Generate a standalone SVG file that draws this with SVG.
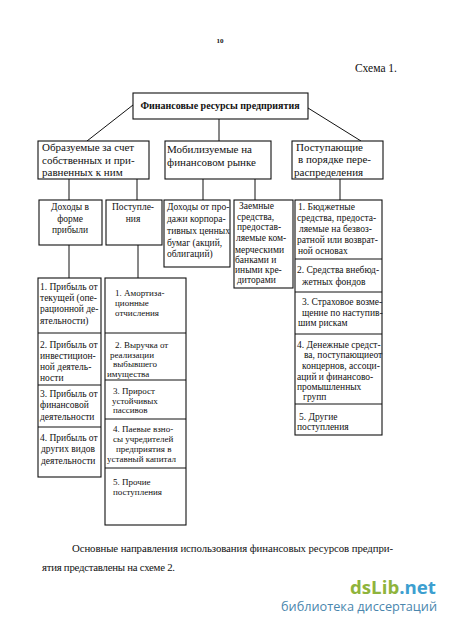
<svg xmlns="http://www.w3.org/2000/svg" width="450" height="626" viewBox="0 0 450 626">
<style>
.bx{fill:#fff;stroke:#111;stroke-width:1.1}
.ln{stroke:#111;stroke-width:1;fill:none}
text{font-family:"Liberation Serif","Times New Roman",serif;fill:#111}
.t{font-size:9.5px}
.s{font-size:9px}
.h{font-size:11px}
.c{text-anchor:middle}
</style>
<rect width="450" height="626" fill="#fff"/>
<text x="220" y="43" class="c" style="font-size:7px;font-weight:bold">10</text>
<text x="397" y="72" text-anchor="end" style="font-size:11.5px">Схема 1.</text>

<g id="connectors" class="ln">
<line x1="133" y1="105" x2="87" y2="141"/>
<line x1="219" y1="119" x2="219" y2="141"/>
<line x1="308" y1="108" x2="361" y2="141"/>
<line x1="69" y1="179" x2="69" y2="200"/>
<line x1="137" y1="179" x2="137" y2="200"/>
<line x1="203" y1="179" x2="203" y2="200"/>
<line x1="255" y1="179" x2="255" y2="200"/>
<line x1="340" y1="179" x2="340" y2="200"/>
<line x1="69" y1="245" x2="69" y2="278"/>
<line x1="138" y1="245" x2="138" y2="278"/>
</g>

<g id="root">
<rect class="bx" x="133" y="93" width="175" height="26"/>
<text x="220" y="109" class="c" style="font-size:10px;font-weight:bold">Финансовые ресурсы предприятия</text>
</g>

<g id="own">
<rect class="bx" x="38" y="141" width="111" height="38"/>
<text class="h" x="42" y="151">Образуемые за счет</text>
<text class="h" x="42" y="164">собственных и при-</text>
<text class="h" x="42" y="176">равненных к ним</text>
</g>
<g id="market">
<rect class="bx" x="165" y="141" width="106" height="38"/>
<text class="h" x="167" y="153">Мобилизуемые на</text>
<text class="h" x="167" y="166">финансовом рынке</text>
</g>
<g id="redistribution">
<rect class="bx" x="292" y="141" width="91" height="38"/>
<text class="h" x="296" y="151">Поступающие</text>
<text class="h" x="298" y="163">в порядке пере-</text>
<text class="h" x="294" y="176">распределения</text>
</g>

<g id="profit">
<rect class="bx" x="39" y="200" width="63" height="45"/>
<text class="t c" x="70" y="210">Доходы в</text>
<text class="t c" x="70" y="222">форме</text>
<text class="t c" x="70" y="233">прибыли</text>
</g>
<g id="receipts">
<rect class="bx" x="106" y="200" width="56" height="45"/>
<text class="t c" x="133" y="210">Поступле-</text>
<text class="t c" x="133" y="222">ния</text>
</g>
<g id="securities">
<rect class="bx" x="164" y="200" width="66" height="67"/>
<text class="t" x="167" y="210">Доходы от про-</text>
<text class="t" x="167" y="222">дажи корпора-</text>
<text class="t" x="167" y="234">тивных ценных</text>
<text class="t" x="167" y="246">бумаг (акций,</text>
<text class="t" x="167" y="257">облигаций)</text>
</g>
<g id="loans">
<rect class="bx" x="234" y="200" width="59" height="88"/>
<text class="t" x="239" y="209">Заемные</text>
<text class="t" x="237" y="220">средства,</text>
<text class="t" x="237" y="230">предостав-</text>
<text class="t" x="236" y="241">ляемые ком-</text>
<text class="t" x="235" y="253">мерческими</text>
<text class="t" x="235" y="263">банками и</text>
<text class="t" x="235" y="273">иными кре-</text>
<text class="t" x="237" y="283">диторами</text>
</g>

<g id="profit-list">
<rect class="bx" x="38" y="278" width="63" height="199"/>
<line class="ln" x1="38" y1="333" x2="101" y2="333"/>
<line class="ln" x1="38" y1="385" x2="101" y2="385"/>
<line class="ln" x1="38" y1="427" x2="101" y2="427"/>
<text class="t" x="40" y="290">1. Прибыль от</text>
<text class="t" x="40" y="301">текущей (опе-</text>
<text class="t" x="40" y="312">рационной де-</text>
<text class="t" x="40" y="324">ятельности)</text>
<text class="t" x="40" y="348">2. Прибыль от</text>
<text class="t" x="40" y="359">инвестицион-</text>
<text class="t" x="40" y="370">ной деятель-</text>
<text class="t" x="40" y="381">ности</text>
<text class="t" x="40" y="397">3. Прибыль от</text>
<text class="t" x="40" y="408">финансовой</text>
<text class="t" x="40" y="420">деятельности</text>
<text class="t" x="40" y="441">4. Прибыль от</text>
<text class="t" x="41" y="452">других видов</text>
<text class="t" x="41" y="464">деятельности</text>
</g>

<g id="receipts-list">
<rect class="bx" x="105" y="278" width="81" height="247"/>
<line class="ln" x1="105" y1="333" x2="186" y2="333"/>
<line class="ln" x1="105" y1="380" x2="186" y2="380"/>
<line class="ln" x1="105" y1="419" x2="186" y2="419"/>
<line class="ln" x1="105" y1="468" x2="186" y2="468"/>
<text class="s" x="115" y="296">1. Амортиза-</text>
<text class="s" x="115" y="306">ционные</text>
<text class="s" x="115" y="316">отчисления</text>
<text class="s" x="115" y="348">2. Выручка от</text>
<text class="s" x="110" y="357.5">реализации</text>
<text class="s" x="113" y="367">выбывшего</text>
<text class="s" x="107" y="376.5">имущества</text>
<text class="s" x="113" y="394">3. Прирост</text>
<text class="s" x="112" y="403.5">устойчивых</text>
<text class="s" x="113" y="413">пассивов</text>
<text class="s" x="113" y="432">4. Паевые взно-</text>
<text class="s" x="113" y="442">сы учредителей</text>
<text class="s" x="116" y="452">предприятия в</text>
<text class="s" x="107" y="462">уставный капитал</text>
<text class="s" x="113" y="485">5. Прочие</text>
<text class="s" x="113" y="495">поступления</text>
</g>

<g id="redistribution-list">
<rect class="bx" x="295" y="200" width="87" height="235"/>
<line class="ln" x1="295" y1="259" x2="382" y2="259"/>
<line class="ln" x1="295" y1="292" x2="382" y2="292"/>
<line class="ln" x1="295" y1="334" x2="382" y2="334"/>
<line class="ln" x1="295" y1="404" x2="382" y2="404"/>
<text class="t" x="298" y="210">1. Бюджетные</text>
<text class="t" x="297" y="221">средства, предоста-</text>
<text class="t" x="299" y="232">ляемые на безвоз-</text>
<text class="t" x="297" y="243">ратной или возврат-</text>
<text class="t" x="298" y="254">ной основах</text>
<text class="t" x="297" y="273">2. Средства внебюд-</text>
<text class="t" x="302" y="285">жетных фондов</text>
<text class="t" x="302" y="305">3. Страховое возме-</text>
<text class="t" x="302" y="316">щение по наступив-</text>
<text class="t" x="298" y="326">шим рискам</text>
<text class="t" x="297" y="348">4. Денежные  средст-</text>
<text class="t" x="304" y="358">ва, поступающиеот</text>
<text class="t" x="302" y="369">концернов, ассоци-</text>
<text class="t" x="297" y="380">аций и финансово-</text>
<text class="t" x="297" y="390">промышленных</text>
<text class="t" x="303" y="400">групп</text>
<text class="t" x="299" y="420">5. Другие</text>
<text class="t" x="297" y="430">поступления</text>
</g>

<text x="72" y="552" style="font-size:10.8px" textLength="321" lengthAdjust="spacing">Основные  направления использования финансовых ресурсов предпри-</text>
<text x="42" y="571" style="font-size:10.8px" textLength="133" lengthAdjust="spacing">ятия представлены на схеме 2.</text>

<text x="350" y="594" style="font-family:'Open Sans','DejaVu Sans',sans-serif;font-size:18px;font-weight:bold" textLength="86" lengthAdjust="spacingAndGlyphs"><tspan fill="#8fb43c">dsLib</tspan><tspan fill="#3d9fd0">.net</tspan></text>
<text x="281" y="611" style="font-family:'Open Sans','DejaVu Sans',sans-serif;font-size:12px;fill:#4a86ad" textLength="156" lengthAdjust="spacingAndGlyphs">библиотека диссертаций</text>
</svg>
